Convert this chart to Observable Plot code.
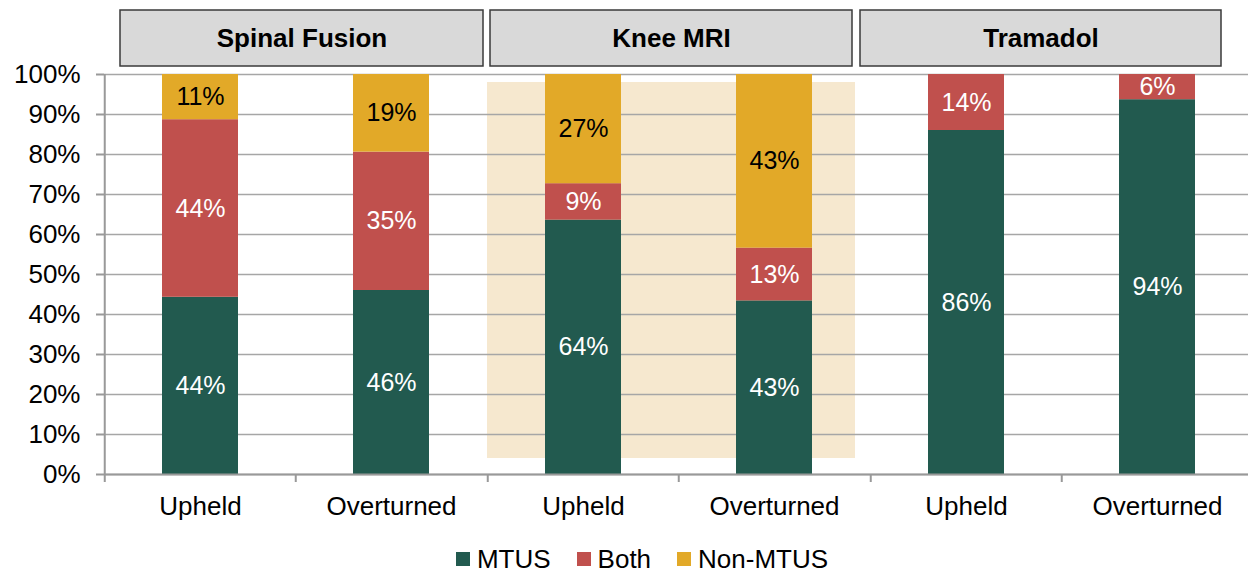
<!DOCTYPE html>
<html>
<head>
<meta charset="utf-8">
<script src="https://cdn.jsdelivr.net/npm/d3@7"></script>
<script src="https://cdn.jsdelivr.net/npm/@observablehq/plot@0.6"></script>
<style>
  html, body { margin: 0; padding: 0; background: #fff; overflow: hidden; }
  #legend {
    display: flex; justify-content: center; align-items: center;
    height: 26px; margin-top: 10px; padding-left: 36px;
    font-family: "Liberation Sans", Arial, sans-serif; font-size: 26px; color: #000;
  }
  #legend .item { display: flex; align-items: center; margin: 0 13px; }
  #legend .sw { width: 14px; height: 14px; margin-right: 7px; }
</style>
</head>
<body>
<div id="chart"></div>
<div id="legend"></div>
<script>
// ---- data ----
const groups = ["Spinal Fusion", "Knee MRI", "Tramadol"];
const outcomes = ["Upheld", "Overturned"];
const seriesNames = ["MTUS", "Both", "Non-MTUS"];
// order: SF-Upheld, SF-Overturned, Knee-Upheld, Knee-Overturned, Tramadol-Upheld, Tramadol-Overturned
const mtusValues    = [44.3, 46.0, 63.6, 43.4, 86.0, 93.7];
const bothValues    = [44.4, 34.6,  9.1, 13.2, 14.0,  6.3];
const nonMtusValues = [11.3, 19.4, 27.3, 43.4,  0.0,  0.0];
const highlightGroups = ["Knee MRI"];
const yTicks = [0, 10, 20, 30, 40, 50, 60, 70, 80, 90, 100];

// ---- styles ----
const seriesColors = {"MTUS": "#225a4f", "Both": "#c0504d", "Non-MTUS": "#e2a928"};
const headerInsets = {"Spinal Fusion": [16, 4], "Knee MRI": [3, 18], "Tramadol": [-10, 32]};
const gridColor = "#a6a6a6";
const axisColor = "#999999";

const seriesValues = [mtusValues, bothValues, nonMtusValues];
const rows = [];
seriesNames.forEach((s, si) => {
  seriesValues[si].forEach((v, i) => {
    if (v > 0) rows.push({group: groups[Math.floor(i / outcomes.length)], outcome: outcomes[i % outcomes.length], series: s, value: v});
  });
});

const W = 1253, ML = 104, MR = 0;
const step = (W - ML - MR) / groups.length / outcomes.length;

const chart = Plot.plot({
  width: W,
  height: 536,
  marginTop: 74,
  marginBottom: 62,
  marginLeft: ML,
  marginRight: MR,
  style: {fontFamily: "'Liberation Sans', Arial, sans-serif", fontSize: "26px", maxWidth: "none", overflow: "visible", background: "white", color: "#000"},
  fx: {domain: groups, padding: 0, axis: null},
  x: {domain: outcomes, paddingInner: 0.6, paddingOuter: 0.3, axis: null},
  y: {domain: [0, 100], axis: null},
  color: {type: "identity"},
  marks: [
    Plot.rect(highlightGroups, {fx: d => d, y1: 4, y2: 98, fill: "#f6e8cf", insetRight: 15}),
    Plot.gridY(yTicks, {stroke: gridColor, strokeOpacity: 1, strokeWidth: 1.5}),
    Plot.barY(rows, {fx: "group", x: "outcome", y: "value", fill: d => seriesColors[d.series]}),
    Plot.text(rows, Plot.stackY({
      fx: "group", x: "outcome", y: "value", z: "series",
      text: d => Math.round(d.value) + "%",
      fill: d => d.series === "Non-MTUS" ? "#000" : "#fff",
      fontSize: 25
    })),
    Plot.ruleY([0], {stroke: axisColor, strokeWidth: 2}),
    Plot.ruleX(groups.slice(0, 1), {fx: d => d, x: () => outcomes[0], y1: 0, y2: 100, dx: -step / 2, stroke: axisColor, strokeWidth: 2}),
    Plot.axisY(yTicks, {tickSize: 8, tickPadding: 16, tickFormat: d => d + "%", stroke: axisColor, strokeWidth: 2, fill: "#000", fontSize: 26, label: null}),
    Plot.axisX({tickSize: 8, dx: -step / 2, fill: "none", stroke: axisColor, strokeWidth: 2, label: null}),
    Plot.axisX({tickSize: 0, tickPadding: 22, fontSize: 26, fill: "#000", label: null}),
    ...groups.map(g => Plot.rect([g], {fx: d => d, y1: 102, y2: 116, fill: "#d9d9d9", stroke: "#3a3a3a", strokeWidth: 1.5, insetLeft: headerInsets[g][0], insetRight: headerInsets[g][1]})),
    ...groups.map(g => Plot.text([g], {fx: d => d, y: 109, text: d => d, fontWeight: "bold", fontSize: 26, fill: "#000", dx: (headerInsets[g][0] - headerInsets[g][1]) / 2}))
  ]
});
document.getElementById("chart").appendChild(chart);

const legend = document.getElementById("legend");
seriesNames.forEach(s => {
  const item = document.createElement("div");
  item.className = "item";
  const sw = document.createElement("span");
  sw.className = "sw";
  sw.style.background = seriesColors[s];
  const lab = document.createElement("span");
  lab.textContent = s;
  item.appendChild(sw);
  item.appendChild(lab);
  legend.appendChild(item);
});
</script>
</body>
</html>
